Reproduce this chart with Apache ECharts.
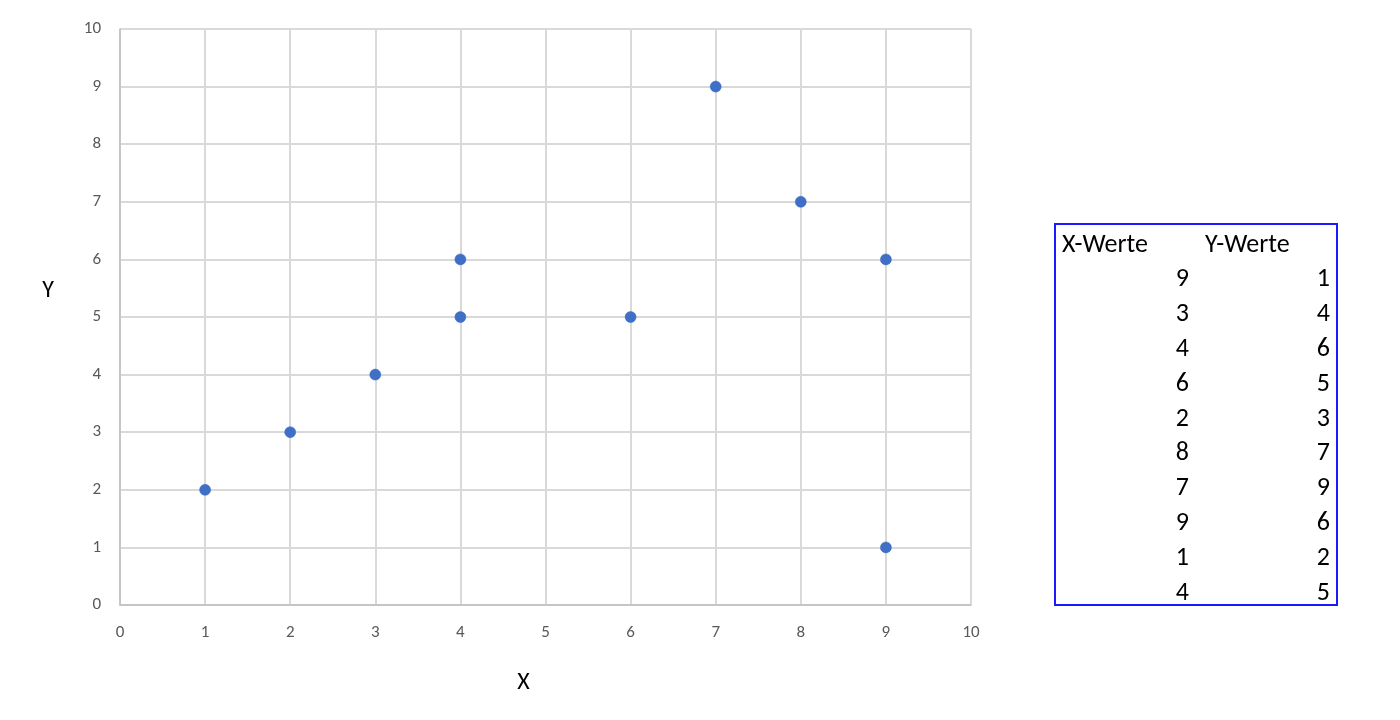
<!DOCTYPE html>
<html>
<head>
<meta charset="utf-8">
<script src="https://cdn.jsdelivr.net/npm/echarts@6/dist/echarts.min.js"></script>
<style>html,body{margin:0;padding:0;background:#fff}#c{width:1400px;height:720px}</style>
</head>
<body>
<div id="c"></div>
<script>
const xValues = [9, 3, 4, 6, 2, 8, 7, 9, 1, 4];
const yValues = [1, 4, 6, 5, 3, 7, 9, 6, 2, 5];
const tableHeaders = ['X-Werte', 'Y-Werte'];
const xAxisName = 'X';
const yAxisName = 'Y';

const chart = echarts.init(document.getElementById('c'));
const points = xValues.map((x, i) => [x, yValues[i]]);

const font = 'Calibri, Carlito, Lato, "Open Sans", sans-serif';
const graphics = [];
const tLeft = 1055, tTop = 224, tW = 282, tH = 381, rowH = 34.8;
graphics.push({
  type: 'rect', shape: {x: tLeft, y: tTop, width: tW, height: tH},
  style: {fill: '#fff', stroke: '#1a1aff', lineWidth: 2}
});
graphics.push({type: 'text', x: 1062, y: tTop + 21, style: {text: tableHeaders[0], font: '26px ' + font, fill: '#000', textVerticalAlign: 'middle'}});
graphics.push({type: 'text', x: 1205, y: tTop + 21, style: {text: tableHeaders[1], font: '26px ' + font, fill: '#000', textVerticalAlign: 'middle'}});
xValues.forEach((x, i) => {
  const cy = tTop + 21 + rowH * (i + 1);
  graphics.push({type: 'text', x: 1189, y: cy, style: {text: String(x), font: '26px ' + font, fill: '#000', textAlign: 'right', textVerticalAlign: 'middle'}});
  graphics.push({type: 'text', x: 1330, y: cy, style: {text: String(yValues[i]), font: '26px ' + font, fill: '#000', textAlign: 'right', textVerticalAlign: 'middle'}});
});
graphics.push({type: 'text', x: 48, y: 291, style: {text: yAxisName, font: '24px ' + font, fill: '#000', textAlign: 'center', textVerticalAlign: 'middle'}});

chart.setOption({
  animation: false,
  grid: {left: 120, right: 429, top: 29, bottom: 115},
  xAxis: {
    type: 'value', min: 0, max: 10, interval: 1,
    name: xAxisName, nameLocation: 'middle', nameGap: 66,
    nameTextStyle: {fontSize: 24, color: '#000', fontFamily: font, padding: [0, 44, 0, 0]},
    axisLine: {show: true, lineStyle: {color: '#bfbfbf', width: 1.5}},
    axisTick: {show: false},
    axisLabel: {color: '#595959', fontSize: 17, margin: 19, fontFamily: font},
    splitLine: {show: true, lineStyle: {color: '#d9d9d9', width: 2}}
  },
  yAxis: {
    type: 'value', min: 0, max: 10, interval: 1,
    axisLine: {show: true, lineStyle: {color: '#bfbfbf', width: 1.5}},
    axisTick: {show: false},
    axisLabel: {color: '#595959', fontSize: 17, margin: 19, fontFamily: font},
    splitLine: {show: true, lineStyle: {color: '#d9d9d9', width: 2}}
  },
  series: [{
    type: 'scatter', data: points, symbol: 'circle', symbolSize: 11,
    itemStyle: {color: '#3f6fc6', borderColor: '#3566bf', borderWidth: 0.5, opacity: 1}
  }],
  graphic: graphics
});
</script>
</body>
</html>
